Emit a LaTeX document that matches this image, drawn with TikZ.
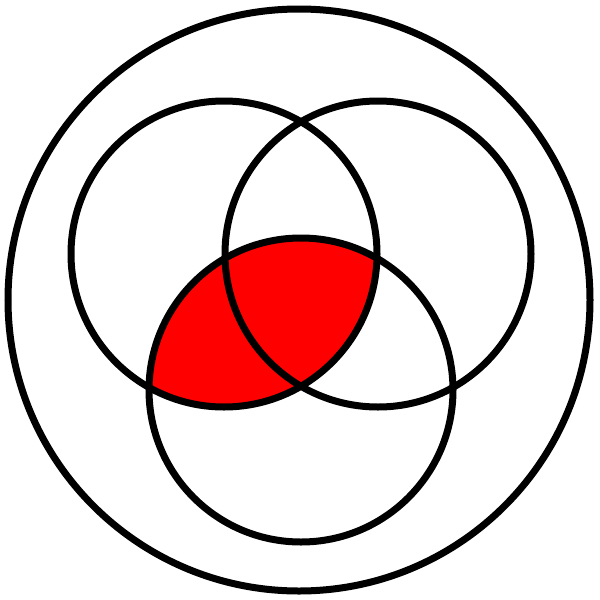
\documentclass[tikz,border=0pt]{standalone}
\begin{document}
\begin{tikzpicture}[x=1pt,y=-1pt,line width=7pt]
\useasboundingbox (0,0) rectangle (600,600);
\coordinate (A) at (224,254);
\coordinate (B) at (378,254);
\coordinate (C) at (301,390);
\begin{scope}
\clip (A) circle (153);
\fill[color=red] (C) circle (152);
\end{scope}
\draw (299,300) circle (291);
\draw (A) circle (153);
\draw (B) circle (153);
\draw (C) circle (152);
\end{tikzpicture}
\end{document}
